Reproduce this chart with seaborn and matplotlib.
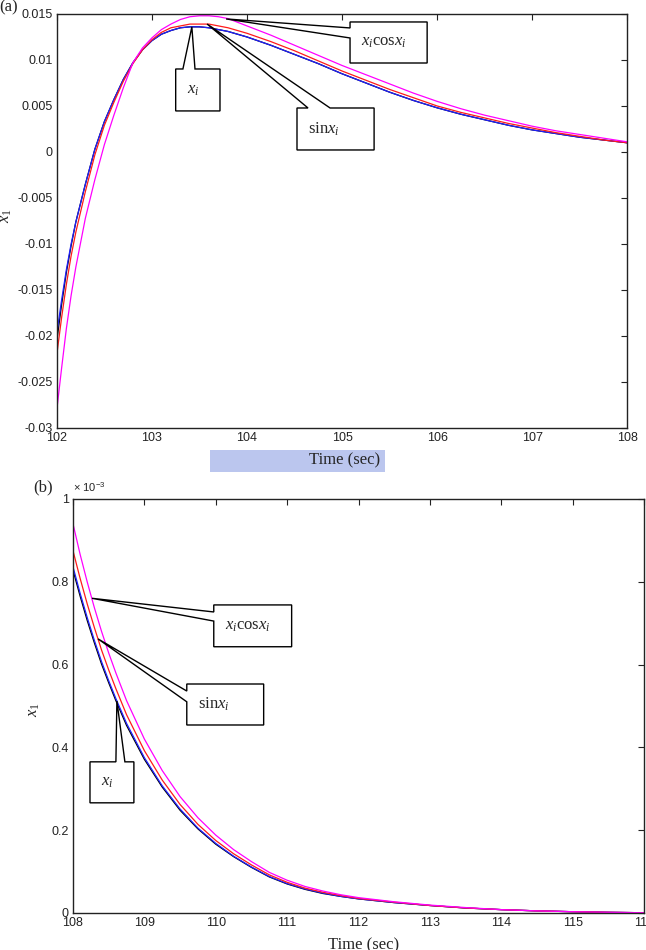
import pandas as pd
import matplotlib
matplotlib.use("Agg")
import matplotlib.pyplot as plt
from matplotlib.patches import Polygon, Rectangle
from matplotlib.ticker import FuncFormatter
import seaborn as sns

# --- DATA ---
# panel (a): time 102..108 s
t_a = [102.0, 102.05, 102.1, 102.15, 102.2, 102.3, 102.4, 102.5, 102.6, 102.7,
       102.8, 102.9, 103.0, 103.1, 103.2, 103.3, 103.4, 103.5, 103.6, 103.7,
       103.8, 104.0, 104.25, 104.5, 104.75, 105.0, 105.25, 105.5, 105.75, 106.0,
       106.25, 106.5, 106.75, 107.0, 107.25, 107.5, 107.75, 108.0]
black_a = [-0.0205, -0.0166, -0.0131, -0.0102, -0.0076, -0.0035, 0.0003, 0.0033,
           0.0057, 0.0079, 0.0097, 0.0111, 0.0121, 0.0128, 0.0132, 0.0135,
           0.0136, 0.0136, 0.0135, 0.0133, 0.0131, 0.0125, 0.0116, 0.0106,
           0.0096, 0.0085, 0.0075, 0.0065, 0.0056, 0.0048, 0.0041, 0.0035,
           0.0029, 0.0024, 0.0020, 0.0016, 0.0013, 0.0010]
xi_a = [-0.0197, -0.0161, -0.0128, -0.0100, -0.0076, -0.0035, 0.0003, 0.0033,
        0.0057, 0.0079, 0.0097, 0.0111, 0.0121, 0.0128, 0.0132, 0.0135,
        0.0136, 0.0136, 0.0135, 0.0133, 0.0131, 0.0125, 0.0116, 0.0106,
        0.0096, 0.0085, 0.0075, 0.0065, 0.0056, 0.0048, 0.0041, 0.0035,
        0.0029, 0.0024, 0.0020, 0.0016, 0.0013, 0.0010]
sin_a = [-0.0220, -0.0180, -0.0144, -0.0113, -0.0087, -0.0043, -0.0003, 0.0029,
         0.0054, 0.0077, 0.0096, 0.0111, 0.0122, 0.0130, 0.0135, 0.0137,
         0.0139, 0.0139, 0.0139, 0.0137, 0.0135, 0.0129, 0.0120, 0.0110,
         0.0099, 0.0088, 0.0078, 0.0068, 0.0059, 0.0050, 0.0043, 0.0037,
         0.0031, 0.0026, 0.0021, 0.0017, 0.0013, 0.0010]
xcos_a = [-0.0280, -0.0235, -0.0192, -0.0156, -0.0125, -0.0072, -0.0030, 0.0008,
          0.0040, 0.0070, 0.0097, 0.0113, 0.0124, 0.0133, 0.0139, 0.0144,
          0.0147, 0.0148, 0.0148, 0.0147, 0.0145, 0.0137, 0.0127, 0.0116,
          0.0105, 0.0094, 0.0084, 0.0074, 0.0064, 0.0055, 0.0047, 0.0040,
          0.0034, 0.0028, 0.0023, 0.0019, 0.0015, 0.0011]

# panel (b): time 108..116 s, values in units of 1e-3
t_b = [108.0, 108.1, 108.2, 108.3, 108.4, 108.5, 108.6, 108.75, 109.0, 109.25,
       109.5, 109.75, 110.0, 110.25, 110.5, 110.75, 111.0, 111.25, 111.5, 111.75,
       112.0, 112.5, 113.0, 113.5, 114.0, 114.5, 115.0, 115.5, 116.0]
black_b = [0.828, 0.765, 0.706, 0.652, 0.601, 0.556, 0.513, 0.453, 0.371, 0.304,
           0.248, 0.203, 0.166, 0.136, 0.110, 0.087, 0.070, 0.057, 0.047, 0.040,
           0.034, 0.025, 0.018, 0.012, 0.008, 0.005, 0.003, 0.0015, 0.0005]
xi_b = [0.836, 0.772, 0.713, 0.658, 0.607, 0.561, 0.518, 0.458, 0.375, 0.307,
        0.251, 0.205, 0.168, 0.137, 0.111, 0.088, 0.071, 0.058, 0.048, 0.040,
        0.034, 0.025, 0.018, 0.012, 0.008, 0.005, 0.003, 0.0015, 0.0005]
sin_b = [0.875, 0.808, 0.746, 0.689, 0.635, 0.587, 0.542, 0.479, 0.392, 0.321,
         0.262, 0.214, 0.175, 0.143, 0.116, 0.092, 0.074, 0.060, 0.050, 0.042,
         0.035, 0.026, 0.018, 0.012, 0.008, 0.005, 0.003, 0.0015, 0.0005]
xcos_b = [0.940, 0.866, 0.799, 0.737, 0.680, 0.628, 0.580, 0.513, 0.420, 0.344,
          0.281, 0.230, 0.188, 0.153, 0.124, 0.098, 0.079, 0.064, 0.053, 0.044,
          0.037, 0.027, 0.019, 0.013, 0.008, 0.005, 0.003, 0.0015, 0.0005]

series_names = ["black", "xi", "sin", "xcos"]
series_colors = {"black": "black", "xi": "#1f1fff", "sin": "#ff1a1a", "xcos": "#ff00ff"}

xticks_a = [102, 103, 104, 105, 106, 107, 108]
yticks_a = [-0.03, -0.025, -0.02, -0.015, -0.01, -0.005, 0, 0.005, 0.01, 0.015]
xticks_b = [108, 109, 110, 111, 112, 113, 114, 115, 116]
yticks_b = [0, 0.2, 0.4, 0.6, 0.8, 1.0]

sns.set_theme(style="white")
plt.rcParams["font.family"] = ["Liberation Sans", "DejaVu Sans"]
plt.rcParams["mathtext.fontset"] = "custom"
plt.rcParams["mathtext.rm"] = "Liberation Serif"
plt.rcParams["mathtext.it"] = "Liberation Serif:italic"
plt.rcParams["mathtext.sf"] = "Liberation Sans"

SERIF = ["Liberation Serif", "DejaVu Serif"]


def long_frame(t, cols):
    rows = []
    for name, vals in zip(series_names, cols):
        for tt, v in zip(t, vals):
            rows.append({"t": tt, "v": v, "s": name})
    return pd.DataFrame(rows)


def style_axes(ax, xt, yt, xlim, ylim):
    ax.set_xlim(*xlim)
    ax.set_ylim(*ylim)
    ax.set_xticks(xt)
    ax.set_yticks(yt)
    ax.xaxis.set_major_formatter(FuncFormatter(lambda v, p: f"{v:g}"))
    ax.yaxis.set_major_formatter(FuncFormatter(lambda v, p: f"{v:g}"))
    ax.tick_params(direction="in", length=4, width=0.8, top=True, right=True,
                   labelsize=9, pad=3, colors="#222222")
    for sp in ax.spines.values():
        sp.set_linewidth(1.0)
        sp.set_color("#222222")
    ax.set_xlabel("Time (sec)", fontsize=12, family=SERIF)
    ax.set_ylabel("$x_1$", fontsize=12)


def callout(ax, anchor, box, gap, text, side="top"):
    x0, y0, x1, y1 = box
    if side == "top":
        verts = [(x0, y1), (gap[0], y1), anchor, (gap[1], y1), (x1, y1), (x1, y0), (x0, y0)]
    else:  # left edge, gap given as (upper y, lower y)
        verts = [(x0, y1), (x1, y1), (x1, y0), (x0, y0), (x0, gap[1]), anchor, (x0, gap[0])]
    ax.add_patch(Polygon(verts, closed=True, facecolor="white", edgecolor="black",
                         linewidth=1.0, zorder=5))
    ax.annotate(text, xy=(x0, (y0 + y1) / 2), xytext=(11, 0), textcoords="offset pixels",
                ha="left", va="center", fontsize=12, family=SERIF, zorder=6)


fig = plt.figure(figsize=(6.46, 9.5), dpi=100)

# watermark-like strip behind the first x label (drawn under everything)
fig.patches.append(Rectangle((210 / 646, 1 - 472 / 950), 175 / 646, 22 / 950,
                             transform=fig.transFigure, facecolor="#aab8ea",
                             edgecolor="none", alpha=0.8, zorder=-5))

ax_a = fig.add_axes([0.088, 0.5495, 0.883, 0.4358])
ax_b = fig.add_axes([0.113, 0.039, 0.884, 0.4358])
ax_a.patch.set_alpha(0)
ax_b.patch.set_alpha(0)

df_a = long_frame(t_a, [black_a, xi_a, sin_a, xcos_a])
df_b = long_frame(t_b, [black_b, xi_b, sin_b, xcos_b])

for ax, df in [(ax_a, df_a), (ax_b, df_b)]:
    sns.lineplot(data=df, x="t", y="v", hue="s", hue_order=series_names,
                 palette=series_colors, linewidth=0.9, legend=False, ax=ax)

style_axes(ax_a, xticks_a, yticks_a, (102, 108), (-0.03, 0.015))
style_axes(ax_b, xticks_b, yticks_b, (108, 116), (0, 1.0))

ax_a.xaxis.set_label_coords(0.505, -0.058)
ax_a.yaxis.set_label_coords(-0.075, 0.514)
ax_b.xaxis.set_label_coords(0.508, -0.06)
ax_b.yaxis.set_label_coords(-0.054, 0.49)

# callouts, panel (a)
callout(ax_a, (103.42, 0.01359), (103.25, 0.00446, 103.716, 0.00902),
        (103.326, 103.453), "$x_i$")
callout(ax_a, (103.58, 0.01391), (104.526, 0.000217, 105.337, 0.00478),
        (104.642, 104.874), "sin$x_i$")
callout(ax_a, (103.78, 0.01446), (105.084, 0.00967, 105.895, 0.01413),
        (0.01348, 0.01239), "$x_i$cos$x_i$", side="left")

# callouts, panel (b)
callout(ax_b, (108.266, 0.760), (109.972, 0.643, 111.063, 0.744),
        (0.727, 0.705), "$x_i$cos$x_i$", side="left")
callout(ax_b, (108.35, 0.662), (109.594, 0.454, 110.671, 0.553),
        (0.536, 0.510), "sin$x_i$", side="left")
callout(ax_b, (108.615, 0.512), (108.238, 0.266, 108.853, 0.365),
        (108.601, 108.727), "$x_i$")

fig.text(9 / 646, 1 - 7 / 950, "(a)", ha="center", va="center", fontsize=12, family=SERIF)
fig.text(43 / 646, 1 - 487 / 950, "(b)", ha="center", va="center", fontsize=12, family=SERIF)
fig.text(73 / 646, 1 - 492 / 950, "× 10$^{\\mathsf{-3}}$", ha="left", va="baseline",
         fontsize=8)

fig.savefig("out.png", dpi=100)
